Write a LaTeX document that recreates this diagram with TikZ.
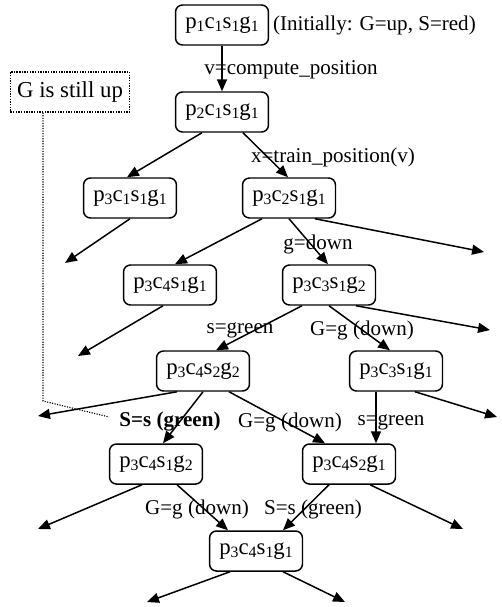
\documentclass[tikz,border=0pt]{standalone}
\usepackage{fontspec}
\setmainfont{Liberation Serif}
\usetikzlibrary{arrows.meta}
\usetikzlibrary{positioning}

\newcommand{\sub}[1]{\raisebox{-0.3ex}{\fontsize{9}{10}\selectfont #1}}
\newcommand{\pcsg}[4]{p\sub{#1}c\sub{#2}s\sub{#3}g\sub{#4}}

\begin{document}
\begin{tikzpicture}[x=0.57pt, y=-0.57pt, >={Triangle[length=6.8pt, width=5.7pt]},
  font=\fontsize{12}{14}\selectfont,
  statebox/.style={draw, line width=0.85pt, rounded corners=4pt, inner sep=0pt,
    minimum width=53pt, minimum height=22.8pt, font=\fontsize{13}{15}\selectfont},
  notebox/.style={draw, line width=0.8pt, dash pattern=on 0.8pt off 0.7pt, inner sep=0pt,
    minimum width=68pt, minimum height=22.8pt, font=\fontsize{13}{15}\selectfont},
  lbl/.style={inner sep=0pt},
  edge/.style={->, line width=0.85pt}]

  \useasboundingbox (0,0) rectangle (501,607);

  % states
  \node[statebox] (s1) at (222,25) {\pcsg1111};
  \node[statebox] (s2) at (222,112) {\pcsg2111};
  \node[statebox] (s3) at (130,198) {\pcsg3111};
  \node[statebox] (s4) at (289,198) {\pcsg3211};
  \node[statebox] (s5) at (170,285) {\pcsg3411};
  \node[statebox] (s6) at (329,285) {\pcsg3312};
  \node[statebox] (s7) at (203,371) {\pcsg3422};
  \node[statebox] (s8) at (396,371) {\pcsg3311};
  \node[statebox] (s9) at (156,464) {\pcsg3412};
  \node[statebox] (s10) at (349,464) {\pcsg3421};
  \node[statebox] (s11) at (256,551) {\pcsg3411};

  \node[lbl, right=2pt of s1] (init) {(Initially: G=up, S=red)};
  \node[notebox] (note) at (70,92) {G is still up};

  % loose ends
  \coordinate (e3) at (65,263);
  \coordinate (e4) at (484,252);
  \coordinate (e5) at (78,356);
  \coordinate (e6) at (490,330);
  \coordinate (e7) at (38,416);
  \coordinate (e8) at (497,417);
  \coordinate (e9) at (38,529);
  \coordinate (e10) at (463,529);
  \coordinate (e11a) at (147,602);
  \coordinate (e11b) at (345,602);

  % transitions
  \draw[edge] (s1) -- (s2);
  \draw[edge] ([shift={(-20,0)}]s2.south) -- ([shift={(-3,0)}]s3.north);
  \draw[edge] ([shift={(21,0)}]s2.south) -- ([shift={(-1,0)}]s4.north);
  \draw[edge] (s3.south) -- (e3);
  \draw[edge] ([shift={(-27,0)}]s4.south) -- ([shift={(5,0)}]s5.north);
  \draw[edge] (s4.south) -- ([shift={(-1,0)}]s6.north);
  \draw[edge] ([shift={(26,0)}]s4.south) -- (e4);
  \draw[edge] ([shift={(-7,0)}]s5.south) -- (e5);
  \draw[edge] ([shift={(-27,0)}]s6.south) -- ([shift={(13,0)}]s7.north);
  \draw[edge] (s6.south) -- ([shift={(-6,0)}]s8.north);
  \draw[edge] ([shift={(27,0)}]s6.south) -- (e6);
  \draw[edge] ([shift={(-26,0)}]s7.south) -- (e7);
  \draw[edge] (s7.south) -- ([shift={(7,0)}]s9.north);
  \draw[edge] ([shift={(26,0)}]s7.south) -- ([shift={(-24,0)}]s10.north);
  \draw[edge] ([shift={(-20,0)}]s8.south) -- ([shift={(27,0)}]s10.north);
  \draw[edge] ([shift={(19,0)}]s8.south) -- (e8);
  \draw[edge] ([shift={(-14,0)}]s9.south) -- (e9);
  \draw[edge] ([shift={(21,0)}]s9.south) -- ([shift={(-28,0)}]s11.north);
  \draw[edge] ([shift={(-20,0)}]s10.south) -- ([shift={(27,0)}]s11.north);
  \draw[edge] ([shift={(21,0)}]s10.south) -- (e10);
  \draw[edge] ([shift={(-26,0)}]s11.south) -- (e11a);
  \draw[edge] ([shift={(27,0)}]s11.south) -- (e11b);

  % labels
  \node[lbl] (lv) at (291,70) {v=compute\_position};
  \node[lbl] (lx) at (333,157) {x=train\_position(v)};
  \node[lbl] (lg) at (318,244) {g=down};
  \node[lbl] (ls1) at (240,330) {s=green};
  \node[lbl] (lG1) at (362,330) {G=g (down)};
  \node[lbl] (lS1) at (170,422) {\bfseries S=s (green)};
  \node[lbl] (lG2) at (290,422) {G=g (down)};
  \node[lbl] (ls2) at (391,422) {s=green};
  \node[lbl] (lG3) at (197,509) {G=g (down)};
  \node[lbl] (lS2) at (313,509) {S=s (green)};

  % note pointer
  \coordinate (bend) at (43,401);
  \draw[line width=0.65pt, dash pattern=on 0.65pt off 0.8pt] (note.south -| bend) -- (bend) -- ([shift={(-10,-5)}]lS1.west);
\end{tikzpicture}
\end{document}
